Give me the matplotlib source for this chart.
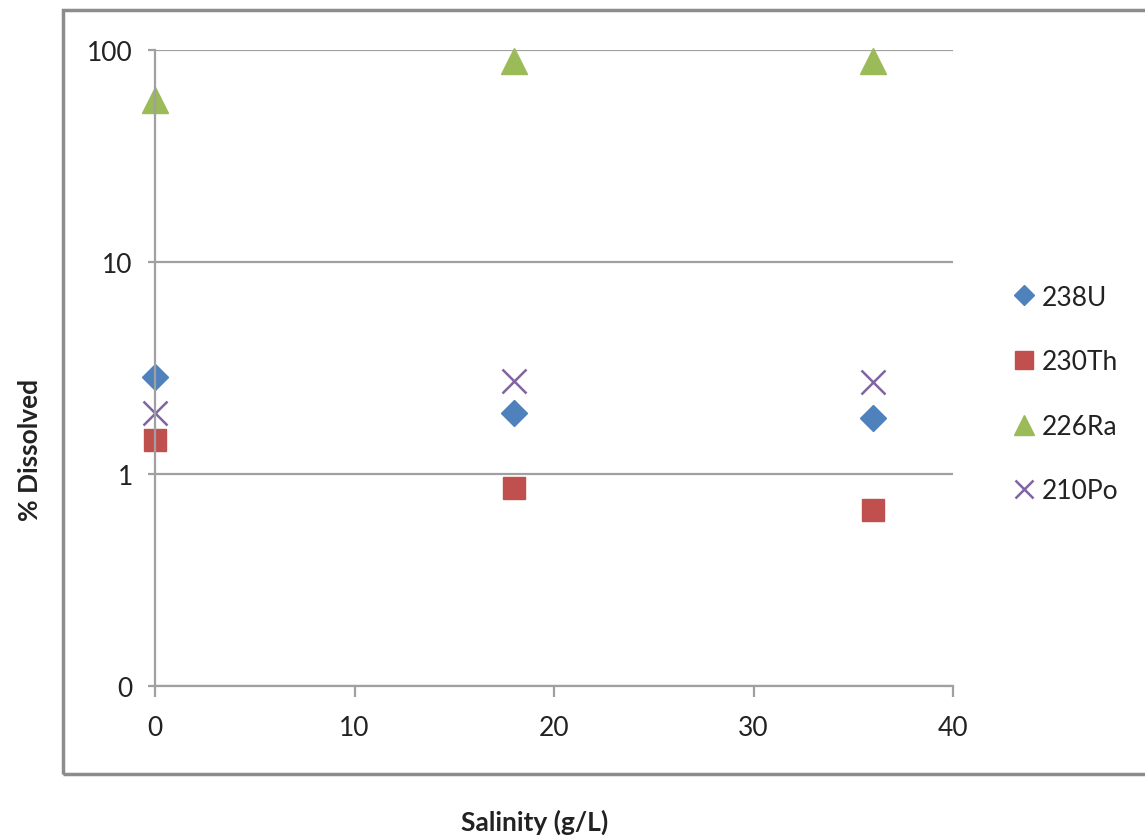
import numpy as np
import matplotlib.pyplot as plt
from matplotlib.patches import Rectangle
from matplotlib.ticker import FixedLocator, NullLocator

plt.rcParams['font.family'] = ['Lato', 'DejaVu Sans']

salinity = [0, 18, 36]
u238 = [2.87, 1.94, 1.84]
th230 = [1.44, 0.86, 0.68]
ra226 = [58.0, 89.0, 88.5]
po210 = [1.94, 2.74, 2.72]

yticks = [0.1, 1, 10, 100]
ytick_labels = ["0", "1", "10", "100"]
xticks = [0, 10, 20, 30, 40]

grey = '#a0a0a0'

fig = plt.figure(figsize=(11.45, 8.37), dpi=100)
ax = fig.add_axes([155/1145, 1-687/837, (953-155)/1145, (687-51)/837])

ax.plot(salinity, u238, ls='none', marker='D', ms=13, color='#4f81bd', label='238U', clip_on=False)
ax.plot(salinity, th230, ls='none', marker='s', ms=16.5, color='#c0504d', label='230Th', clip_on=False)
ax.plot(salinity, ra226, ls='none', marker='^', ms=19, color='#9bbb59', label='226Ra', clip_on=False)
ax.plot(salinity, po210, ls='none', marker='x', ms=17, mew=1.8, color='#8064a2', label='210Po', clip_on=False)

ax.set_yscale('log')
ax.set_ylim(0.1, 100)
ax.set_xlim(0, 40)
ax.yaxis.set_major_locator(FixedLocator(yticks))
ax.yaxis.set_minor_locator(NullLocator())
ax.set_yticklabels(ytick_labels)
ax.set_xticks(xticks)

ax.grid(axis='y', color=grey, lw=1.6)
ax.set_axisbelow(True)
for s in ['top', 'right']:
    ax.spines[s].set_visible(False)
for s in ['left', 'bottom']:
    ax.spines[s].set_color(grey)
    ax.spines[s].set_linewidth(1.6)
ax.tick_params(axis='y', length=5, width=1.6, color=grey, labelsize=19, pad=11)
ax.tick_params(axis='x', length=8, width=1.6, color=grey, labelsize=19, pad=13)
for lbl in ax.get_xticklabels() + ax.get_yticklabels():
    lbl.set_color('#222222')

leg = ax.legend(loc='center left', bbox_to_anchor=(990/1145, 1-395/837),
                bbox_transform=fig.transFigure, frameon=False, fontsize=19,
                markerscale=0.75, handlelength=0.8, handletextpad=0.25,
                labelspacing=1.5, numpoints=1)
for t in leg.get_texts():
    t.set_color('#222222')

fig.text(30/1145, 1-450/837, '% Dissolved', rotation=90, ha='center', va='center',
         fontsize=19, fontweight='bold', color='#222222')
fig.text(535/1145, 1-822/837, 'Salinity (g/L)', ha='center', va='center',
         fontsize=19, fontweight='bold', color='#222222')

fig.patches.append(Rectangle((63/1145, 1-775/837), 1.2, (775-11)/837,
                             transform=fig.transFigure, fill=False,
                             edgecolor='#8c8c8c', lw=2.5))

fig.savefig('out.png', dpi=100)
